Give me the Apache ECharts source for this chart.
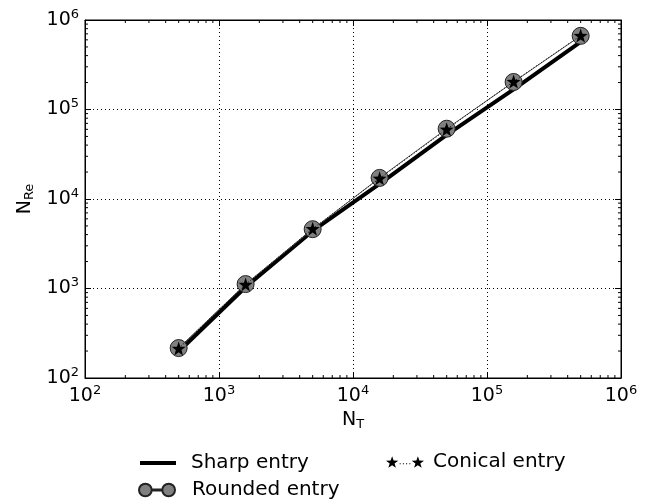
<!DOCTYPE html>
<html><head><meta charset="utf-8">
<script src="https://cdn.jsdelivr.net/npm/echarts@6/dist/echarts.min.js"></script>
<style>html,body{margin:0;padding:0;background:#fff}#c{width:656px;height:503px}</style>
</head><body><div id="c"></div>
<script>
const nT = [500, 1580, 5000, 15800, 50000, 158000, 500000];
const sharp = [198, 1040, 4400, 14800, 52000, 168000, 568000];
const rounded = [216, 1120, 4600, 17200, 61000, 203000, 665000];
const conical = [214, 1110, 4650, 17000, 60000, 205000, 670000];
const minorTicks = [];
for (let k = 2; k <= 5; k++) for (let m = 2; m <= 9; m++) minorTicks.push(m * Math.pow(10, k));

const FONT = 'DejaVu Sans';
const sup = v => { const e = Math.round(Math.log10(v)); return '{b|10}{s|' + e + '}'; };
const richLab = {
  b: {fontSize: 19, fontFamily: FONT, color: '#000'},
  s: {fontSize: 13, fontFamily: FONT, color: '#000', padding: [0, 0, 11, 0]}
};
const pair = (a, b) => nT.map((x, i) => [x, b[i]]);

function starPath(cx, cy, R) {
  const r = R * 0.4; let d = '';
  for (let i = 0; i < 10; i++) {
    const rad = i % 2 === 0 ? R : r;
    const ang = -Math.PI / 2 + i * Math.PI / 5;
    d += (i === 0 ? 'M' : 'L') + (cx + rad * Math.cos(ang)).toFixed(2) + ',' + (cy + rad * Math.sin(ang)).toFixed(2) + ' ';
  }
  return d + 'Z ';
}
const starSym = 'path://' + starPath(50, 52, 50);
let conIcon = 'path://' + starPath(6, 6.5, 6) + starPath(30, 6.5, 6);
[13, 16, 19, 22].forEach(x => { conIcon += 'M' + x + ',7 L' + (x + 1) + ',7 L' + (x + 1) + ',8 L' + x + ',8 Z '; });
const rndIcon = 'path://M1,7 A6,6 0 1 1 13,7 A6,6 0 1 1 1,7 Z M23,7 A6,6 0 1 1 35,7 A6,6 0 1 1 23,7 Z M13,6.5 L23,6.5 L23,7.5 L13,7.5 Z';

const chart = echarts.init(document.getElementById('c'));
const logAxis = {
  type: 'log', logBase: 10, min: 100, max: 1000000,
  axisLine: {lineStyle: {color: '#000', width: 1}},
  axisTick: {inside: true, length: 6, lineStyle: {color: '#000'}},
  splitLine: {show: false}
};
const minorRender = (isX) => (params, api) => {
  const v = api.value(isX ? 0 : 1);
  let a, b;
  if (isX) { a = api.coord([v, 100]); b = api.coord([v, 1000000]);
    return {type: 'group', children: [
      {type: 'line', shape: {x1: a[0], y1: a[1], x2: a[0], y2: a[1] - 3}, style: {stroke: '#000', lineWidth: 1}},
      {type: 'line', shape: {x1: b[0], y1: b[1], x2: b[0], y2: b[1] + 3}, style: {stroke: '#000', lineWidth: 1}}]};
  } else { a = api.coord([100, v]); b = api.coord([1000000, v]);
    return {type: 'group', children: [
      {type: 'line', shape: {x1: a[0], y1: a[1], x2: a[0] + 3, y2: a[1]}, style: {stroke: '#000', lineWidth: 1}},
      {type: 'line', shape: {x1: b[0], y1: b[1], x2: b[0] - 3, y2: b[1]}, style: {stroke: '#000', lineWidth: 1}}]};
  }
};
const legendText = pad => ({fontFamily: FONT, fontSize: 20, color: '#000', padding: [0, 0, 0, pad]});
const legendBase = {orient: 'horizontal', itemWidth: 36, itemHeight: 14, selectedMode: false};
const nameRich = {a: {fontSize: 19, fontFamily: FONT, color: '#000'}, s: {fontSize: 13, fontFamily: FONT, color: '#000', padding: [9, 0, 0, 0]}};

chart.setOption({
  animation: false,
  grid: {left: 85, right: 35, top: 20, bottom: 125, show: true, borderColor: '#000', borderWidth: 1, backgroundColor: '#fff'},
  xAxis: [
    Object.assign({}, logAxis, {position: 'bottom',
      name: '{a|N}{s|T}', nameLocation: 'middle', nameGap: 31,
      nameTextStyle: {rich: nameRich},
      axisLabel: {margin: 6, formatter: sup, rich: richLab},
      splitLine: {show: true, lineStyle: {type: [1, 3], color: '#000', width: 1}}}),
    Object.assign({}, logAxis, {position: 'top', axisLabel: {show: false}})
  ],
  yAxis: [
    Object.assign({}, logAxis, {position: 'left',
      name: '{a|N}{s|Re}', nameLocation: 'middle', nameGap: 48, nameRotate: 90,
      nameTextStyle: {rich: nameRich},
      axisLabel: {margin: 6, formatter: sup, rich: richLab},
      splitLine: {show: true, lineStyle: {type: [1, 3], color: '#000', width: 1}}}),
    Object.assign({}, logAxis, {position: 'right', axisLabel: {show: false}})
  ],
  legend: [
    Object.assign({}, legendBase, {left: 135, top: 448, itemHeight: 4, itemWidth: 36, data: [{name: 'Sharp entry', icon: 'rect'}],
      textStyle: legendText(10)}),
    Object.assign({}, legendBase, {left: 381, top: 447, itemWidth: 38, itemHeight: 14, data: [{name: 'Conical entry', icon: conIcon}],
      textStyle: legendText(4)}),
    Object.assign({}, legendBase, {left: 133, top: 475, data: [{name: 'Rounded entry', icon: rndIcon}],
      textStyle: legendText(12)})
  ],
  series: [
    {type: 'custom', silent: true, data: minorTicks.map(v => [v, 1000]), renderItem: minorRender(true), z: 1},
    {type: 'custom', silent: true, data: minorTicks.map(v => [1000, v]), renderItem: minorRender(false), z: 1},
    {name: 'Sharp entry', type: 'line', data: pair(nT, sharp), symbol: 'none',
      lineStyle: {color: '#000', width: 4}, itemStyle: {color: '#000'}, z: 3},
    {name: 'Rounded entry', type: 'line', data: pair(nT, rounded), symbol: 'circle', symbolSize: 17,
      lineStyle: {color: '#555', width: 1}, itemStyle: {color: '#808080', borderColor: '#222', borderWidth: 1}, z: 4},
    {name: 'Conical entry', type: 'line', data: pair(nT, conical), symbol: starSym, symbolSize: 14,
      lineStyle: {color: '#000', width: 1, type: [1, 2]}, itemStyle: {color: '#000'}, z: 5}
  ]
});
</script></body></html>
